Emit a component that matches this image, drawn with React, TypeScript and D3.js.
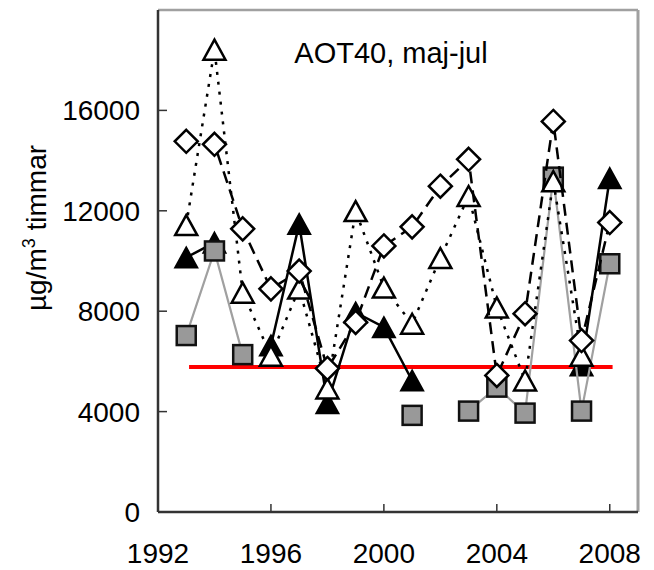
import React from "react";
import * as d3 from "d3";

const years = [1993, 1994, 1995, 1996, 1997, 1998, 1999, 2000, 2001, 2002, 2003, 2004, 2005, 2006, 2007, 2008];
// null = no measurement
const seriesFilledTri: (number | null)[] = [10140, 10730, null, 6630, 11470, 4330, 7950, 7360, 5240, null, null, null, null, null, 5840, 13300];
const seriesSquare: (number | null)[] = [7030, 10400, 6270, null, null, null, null, null, 3850, null, 4020, 4975, 3940, 13340, 4020, 9890];
const seriesOpenTri: (number | null)[] = [11430, 18420, 8740, 6230, 8900, 4920, 11990, 8940, 7500, 10120, 12590, 8150, 5240, 13180, 6230, null];
const seriesDiamond: (number | null)[] = [14770, 14650, 11280, 8890, 9600, 5720, 7555, 10600, 11360, 12980, 14050, 5440, 7900, 15560, 6830, 11530];
const thresholdValue = 5780;
const thresholdYears = [1993.1, 2008.1];
const yTicks = [0, 4000, 8000, 12000, 16000];
const xTicks = [1992, 1996, 2000, 2004, 2008];
const title = "AOT40, maj-jul";

const W = 654, H = 570;
const L = 158, R = 638, T = 10, B = 512;
const FONT = "Arial, 'Liberation Sans', Helvetica, sans-serif";

export default function App() {
  const x = d3.scaleLinear().domain([1992, 2009]).range([L, R]);
  const y = d3.scaleLinear().domain([0, 20000]).range([B, T]);

  const line = d3
    .line<[number, number | null]>()
    .defined((d) => d[1] !== null)
    .x((d) => x(d[0]))
    .y((d) => y(d[1] as number));

  const pts = (s: (number | null)[]) => years.map((yr, i) => [yr, s[i]] as [number, number | null]);

  const tri = (cx: number, cy: number) => {
    const w = 22, h = 20;
    return `M${cx},${cy - h / 2}L${cx + w / 2},${cy + h / 2}L${cx - w / 2},${cy + h / 2}Z`;
  };
  const dia = (cx: number, cy: number) => {
    const r = 11.5;
    return `M${cx},${cy - r}L${cx + r},${cy}L${cx},${cy + r}L${cx - r},${cy}Z`;
  };

  const valid = (s: (number | null)[]) => pts(s).filter((d) => d[1] !== null) as [number, number][];

  return (
    <svg width={W} height={H} style={{ position: "absolute", left: 0, top: 0, background: "#fff" }}>
      <rect x={0} y={0} width={W} height={H} fill="#fff" />
      {/* frame */}
      <line x1={L} y1={T} x2={R} y2={T} stroke="#a0a0a0" strokeWidth={2.5} />
      <line x1={R} y1={T} x2={R} y2={B} stroke="#a0a0a0" strokeWidth={3} />
      <line x1={L} y1={T} x2={L} y2={B} stroke="#333" strokeWidth={2.5} />
      <line x1={L} y1={B} x2={R} y2={B} stroke="#333" strokeWidth={2.5} />
      {yTicks.map((t) => (
        <g key={"y" + t}>
          {t > 0 && <line x1={L} x2={L + 9} y1={y(t)} y2={y(t)} stroke="#333" strokeWidth={1.5} />}
          <text x={140} y={y(t) + 10} textAnchor="end" fontFamily={FONT} fontSize={28} fill="#000">
            {t}
          </text>
        </g>
      ))}
      {xTicks.map((t) => (
        <g key={"x" + t}>
          {t > 1992 && <line x1={x(t)} x2={x(t)} y1={B} y2={B - 8} stroke="#333" strokeWidth={1.5} />}
          <text x={x(t)} y={563} textAnchor="middle" fontFamily={FONT} fontSize={28} fill="#000">
            {t}
          </text>
        </g>
      ))}
      <text
        transform={`translate(46,228) rotate(-90)`}
        textAnchor="middle"
        fontFamily={FONT}
        fontSize={28}
        fill="#000"
      >
        µg/m<tspan fontSize={18} dy={-11}>3</tspan>
        <tspan dy={11}> timmar</tspan>
      </text>
      <text x={391} y={63} textAnchor="middle" fontFamily={FONT} fontSize={29} fill="#000">
        {title}
      </text>

      {/* threshold */}
      <line
        x1={x(thresholdYears[0])}
        x2={x(thresholdYears[1])}
        y1={y(thresholdValue)}
        y2={y(thresholdValue)}
        stroke="#ff0000"
        strokeWidth={4}
      />

      {/* series A: filled triangles, solid black */}
      <path d={line(pts(seriesFilledTri)) || ""} fill="none" stroke="#000" strokeWidth={2.5} />
      {valid(seriesFilledTri).map((d) => (
        <path key={"a" + d[0]} d={tri(x(d[0]), y(d[1]))} fill="#000" stroke="#000" strokeWidth={2} />
      ))}

      {/* series B: gray squares, gray line */}
      <path d={line(pts(seriesSquare)) || ""} fill="none" stroke="#a0a0a0" strokeWidth={2.2} />
      {valid(seriesSquare).map((d) => (
        <rect
          key={"b" + d[0]}
          x={x(d[0]) - 9.5}
          y={y(d[1]) - 9.5}
          width={19}
          height={19}
          fill="#999999"
          stroke="#111"
          strokeWidth={2.5}
        />
      ))}

      {/* series C: open triangles, dotted */}
      <path d={line(pts(seriesOpenTri)) || ""} fill="none" stroke="#000" strokeWidth={2.5} strokeDasharray="3,7" />
      {valid(seriesOpenTri).map((d) => (
        <path key={"c" + d[0]} d={tri(x(d[0]), y(d[1]))} fill="#fff" stroke="#000" strokeWidth={2.5} />
      ))}

      {/* series D: open diamonds, dashed */}
      <path d={line(pts(seriesDiamond)) || ""} fill="none" stroke="#000" strokeWidth={2.5} strokeDasharray="12,7" />
      {valid(seriesDiamond).map((d) => (
        <path key={"d" + d[0]} d={dia(x(d[0]), y(d[1]))} fill="#fff" stroke="#000" strokeWidth={2.5} />
      ))}
    </svg>
  );
}
